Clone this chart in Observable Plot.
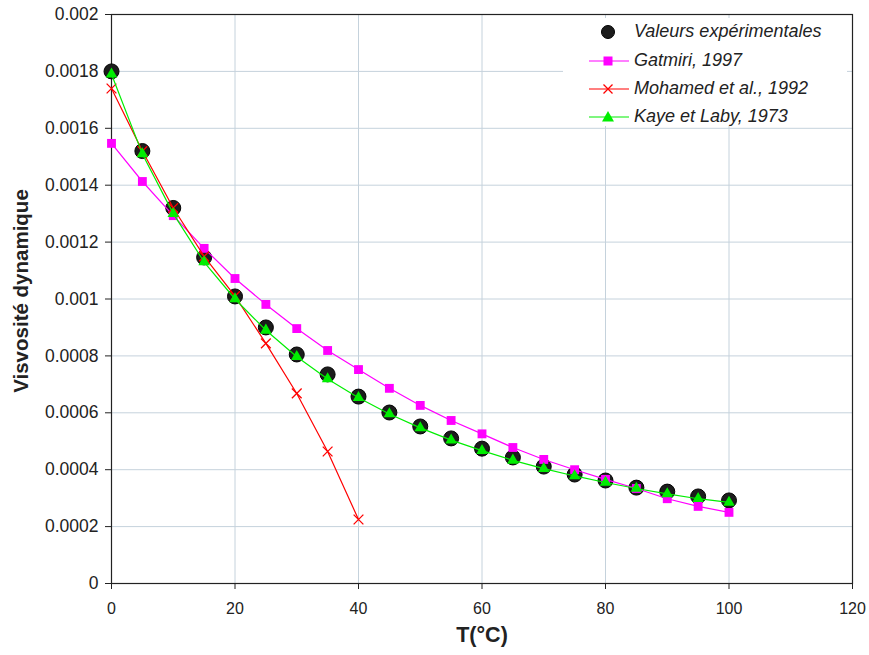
<!DOCTYPE html>
<html>
<head>
<meta charset="utf-8">
<script src="https://cdn.jsdelivr.net/npm/d3@7"></script>
<script src="https://cdn.jsdelivr.net/npm/@observablehq/plot@0.6"></script>
<style>
  body { margin: 0; background: #fff; }
  #wrap { position: relative; width: 869px; height: 655px; font-family: "Liberation Sans", Arial, sans-serif; }
  #legend { position: absolute; left: 563px; top: 18px; width: 284px; height: 108px; background: #fff; }
  .row { position: absolute; left: 0; height: 24px; width: 284px; }
  .row svg { position: absolute; left: 22px; top: 0; }
  .row span { position: absolute; left: 71px; top: 1px; font-style: italic; font-size: 18px; color: #222; white-space: nowrap; }
</style>
</head>
<body>
<div id="wrap"></div>
<script>
// Temperature (°C)
const temps = [0,5,10,15,20,25,30,35,40,45,50,55,60,65,70,75,80,85,90,95,100];
const tempsMohamed = [0,5,10,15,20,25,30,35,40];
// Dynamic viscosity values
const experimental = [0.0018,0.00152,0.00132,0.001146,0.001009,0.0009,0.000805,0.000735,0.000657,0.000601,0.000552,0.00051,0.000474,0.000443,0.000411,0.000383,0.000362,0.000337,0.000323,0.000306,0.000292];
const gatmiri = [0.001547,0.001413,0.001293,0.001178,0.001072,0.000981,0.000896,0.000819,0.000752,0.000686,0.000626,0.000573,0.000526,0.000478,0.000436,0.0004,0.000366,0.000334,0.000298,0.000271,0.00025];
const mohamed = [0.00174,0.00152,0.00132,0.00115,0.00101,0.000844,0.000668,0.000464,0.000225];
const kaye = [0.00179,0.00151,0.0013,0.00113,0.001,0.00089,0.000797,0.000719,0.000653,0.000596,0.000547,0.000504,0.000467,0.000433,0.000404,0.000378,0.000355,0.000334,0.000315,0.000298,0.000285];
const xTicks = [0,20,40,60,80,100,120];
const yTicks = [0,0.0002,0.0004,0.0006,0.0008,0.001,0.0012,0.0014,0.0016,0.0018,0.002];
const seriesNames = ["Valeurs expérimentales","Gatmiri, 1997","Mohamed et al., 1992","Kaye et Laby, 1973"];
const xLabel = "T(°C)";
const yLabel = "Visvosité dynamique";

const expData = temps.map((t,i) => ({t, v: experimental[i]}));
const gatData = temps.map((t,i) => ({t, v: gatmiri[i]}));
const mohData = tempsMohamed.map((t,i) => ({t, v: mohamed[i]}));
const kayData = temps.map((t,i) => ({t, v: kaye[i]}));

const fmt = d => d === 0 ? "0" : String(+d.toFixed(4));

const plot = Plot.plot({
  width: 869, height: 655,
  marginLeft: 111, marginRight: 17, marginTop: 14, marginBottom: 72,
  style: { fontFamily: "Liberation Sans, Arial, sans-serif", fontSize: "16px", color: "#222", background: "#fff" },
  x: { domain: [0,120], ticks: xTicks },
  y: { domain: [0,0.002], ticks: yTicks },
  marks: [
    Plot.gridX(xTicks.slice(1,-1), { stroke: "#c5d2dc", strokeOpacity: 1, strokeWidth: 1 }),
    Plot.gridY(yTicks.slice(1,-1), { stroke: "#c5d2dc", strokeOpacity: 1, strokeWidth: 1 }),
    Plot.axisX(xTicks, { tickSize: 6, tickPadding: 13, tickFormat: d => String(d), label: null, stroke: "#222", color: "#222", fontSize: 16 }),
    Plot.axisY(yTicks, { tickSize: 6, tickPadding: 7, tickFormat: fmt, label: null, stroke: "#222", color: "#222", fontSize: 17.5 }),
    Plot.frame({ stroke: "#222", strokeWidth: 1.2 }),
    Plot.dot(expData, { x: "t", y: "v", r: 7.5, fill: "#1c1c1c", stroke: "#000", strokeWidth: 1 }),
    Plot.line(gatData, { x: "t", y: "v", stroke: "#ff00ff", strokeWidth: 1.2 }),
    Plot.dot(gatData, { x: "t", y: "v", symbol: "square", r: 5, fill: "#ff00ff" }),
    Plot.line(mohData, { x: "t", y: "v", stroke: "#ff0000", strokeWidth: 1.2 }),
    Plot.dot(mohData, { x: "t", y: "v", symbol: "times", r: 4.5, stroke: "#ff0000", strokeWidth: 1.3 }),
    Plot.line(kayData, { x: "t", y: "v", stroke: "#00ee00", strokeWidth: 1.2 }),
    Plot.dot(kayData, { x: "t", y: "v", symbol: "triangle", r: 4.3, fill: "#00ee00" }),
    Plot.text([xLabel], { frameAnchor: "bottom", dy: 58, text: d => d, fontSize: 21.5, fontWeight: "bold", fill: "#222" }),
    Plot.text([yLabel], { frameAnchor: "left", textAnchor: "middle", dx: -90, dy: -8, rotate: -90, text: d => d, fontSize: 20.5, fontWeight: "bold", fill: "#222" })
  ]
});
const wrap = document.getElementById("wrap");
wrap.appendChild(plot);

// Legend
const legend = document.createElement("div");
legend.id = "legend";
const sym = [
  '<circle cx="23" cy="12" r="6.5" fill="#1c1c1c" stroke="#000"/>',
  '<line x1="4" y1="12" x2="44" y2="12" stroke="#ff00ff" stroke-width="1.2"/><rect x="18.5" y="7.5" width="9" height="9" fill="#ff00ff"/>',
  '<line x1="4" y1="12" x2="44" y2="12" stroke="#ff0000" stroke-width="1.2"/><path d="M18.5,7.5L27.5,16.5M27.5,7.5L18.5,16.5" stroke="#ff0000" stroke-width="1.3"/>',
  '<line x1="4" y1="12" x2="44" y2="12" stroke="#00ee00" stroke-width="1.2"/><path d="M23,6L29,16.5L17,16.5Z" fill="#00ee00"/>'
];
const rowsY = [2, 31, 59, 87];
seriesNames.forEach((name, i) => {
  const row = document.createElement("div");
  row.className = "row";
  row.style.top = rowsY[i] + "px";
  row.innerHTML = `<svg width="50" height="24">${sym[i]}</svg><span>${name}</span>`;
  legend.appendChild(row);
});
wrap.appendChild(legend);
</script>
</body>
</html>
